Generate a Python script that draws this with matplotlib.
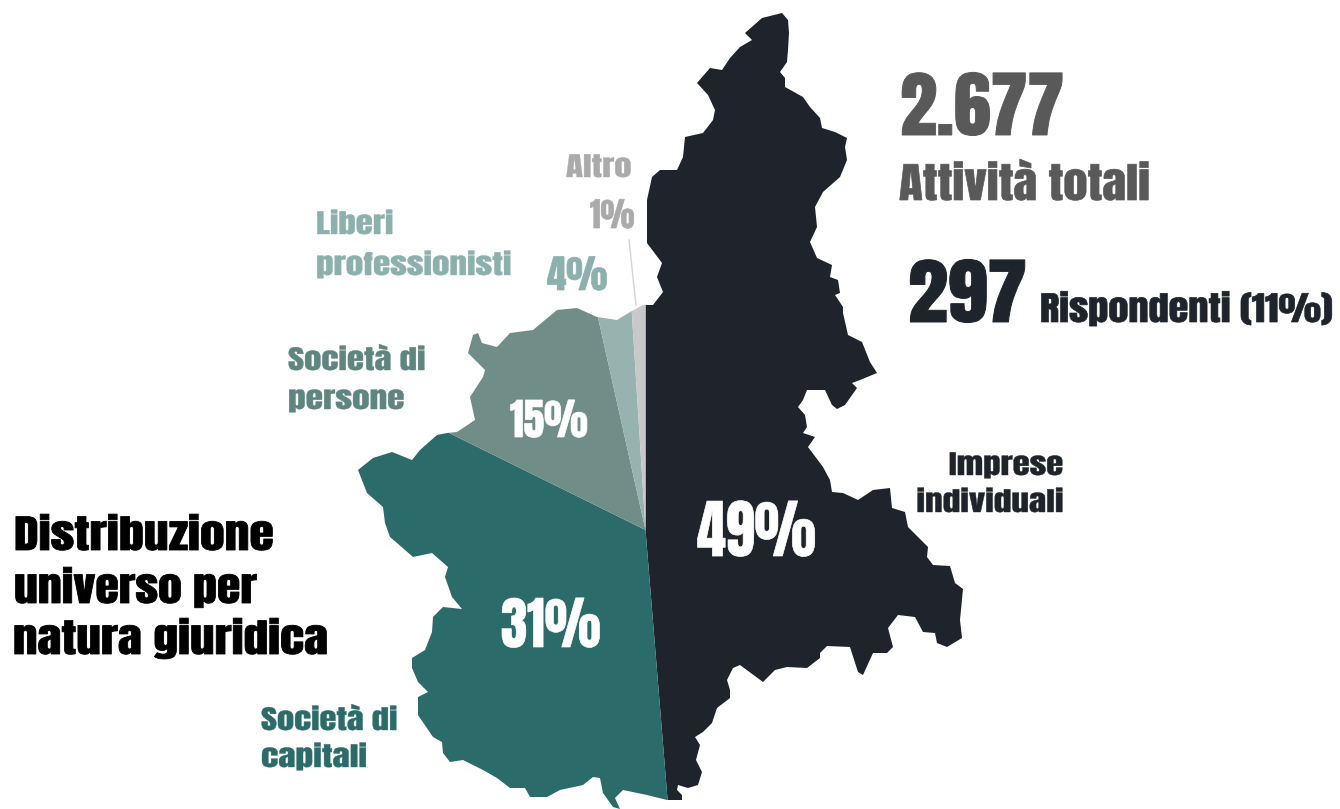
import matplotlib
matplotlib.use('Agg')
import matplotlib.pyplot as plt
import matplotlib.patheffects as pe
from matplotlib.patches import Polygon
from matplotlib.transforms import Affine2D

# drawn wedge sizes (the map's wedges do not follow the printed labels exactly)
categories = ['Imprese individuali', 'Società di capitali', 'Società di persone',
              'Liberi professionisti', 'Altro']
drawn_shares = [48.7, 33.6, 14.2, 2.5, 1.0]
printed_labels = ['49%', '31%', '15%', '4%', '1%']
slice_colors = ['#1f232c', '#2b6b69', '#708e87', '#96b3b0', '#c8c8c8']

# outline of the region, in picture pixels
region_outline = [
    (782, 13), (788, 20), (789, 33), (788, 50), (787, 62), (780, 72), (785, 78), (785, 87),
    (803, 97), (810, 107), (820, 118), (822, 128), (835, 132), (847, 138), (845, 147),
    (847, 160), (840, 177), (823, 192), (815, 207), (817, 227), (810, 242), (817, 258),
    (832, 265), (830, 277), (838, 280), (840, 293), (835, 295), (843, 307), (843, 313),
    (848, 335), (862, 342), (870, 362), (877, 373), (860, 380), (852, 383), (857, 388),
    (845, 405), (837, 409), (832, 405), (825, 390), (807, 390), (803, 400), (798, 407),
    (805, 415), (807, 427), (803, 433), (815, 437), (808, 447), (823, 467), (830, 480),
    (832, 492), (843, 493), (858, 500), (873, 490), (890, 488), (892, 508), (905, 512),
    (908, 527), (928, 547), (927, 557), (933, 565), (950, 566), (955, 583), (963, 589),
    (960, 620), (962, 638), (947, 647), (937, 643), (935, 633), (923, 632), (915, 617),
    (898, 615), (888, 628), (893, 647), (887, 653), (873, 653), (863, 675), (858, 672),
    (850, 647), (827, 646), (820, 653), (820, 658), (807, 668), (787, 667), (775, 670),
    (763, 682), (740, 665), (733, 668), (727, 680), (730, 690), (730, 698), (717, 708),
    (712, 723), (703, 732), (695, 737), (700, 745), (696, 760), (702, 772), (698, 785),
    (688, 788), (678, 785), (677, 790), (682, 795), (682, 800), (667, 800), (647, 795),
    (623, 790), (615, 798), (620, 809), (613, 807), (603, 793), (600, 778), (593, 777),
    (583, 785), (560, 790), (547, 797), (530, 797), (525, 788), (510, 788), (497, 778),
    (483, 770), (463, 760), (450, 762), (443, 753), (442, 742), (433, 737), (418, 715),
    (418, 697), (428, 692), (418, 682), (412, 668), (412, 658), (425, 650), (432, 632),
    (433, 617), (443, 607), (462, 609), (452, 597), (445, 577), (448, 567), (432, 553),
    (413, 557), (397, 543), (390, 537), (385, 523), (383, 507), (367, 493), (358, 470),
    (373, 458), (392, 452), (412, 460), (420, 450), (437, 435), (447, 433), (457, 432),
    (475, 420), (470, 397), (483, 377), (485, 370), (468, 353), (473, 335), (478, 333),
    (482, 343), (497, 347), (510, 333), (533, 330), (557, 310), (577, 308), (597, 317),
    (617, 320), (630, 312), (643, 305), (653, 305), (663, 292), (657, 277), (662, 263),
    (647, 243), (647, 200), (652, 177), (660, 170), (677, 170), (683, 157), (685, 137),
    (703, 133), (713, 120), (715, 110), (708, 95), (697, 83), (710, 68), (722, 70),
    (730, 58), (740, 47), (752, 40), (745, 33), (762, 18),
]

plt.rcParams['font.family'] = ['Anton', 'Liberation Sans', 'DejaVu Sans']

fig = plt.figure(figsize=(13.4, 8.09), dpi=100)
ax = fig.add_axes([0, 0, 1, 1])

# y axis points down, so startangle -90 is straight up on screen
wedges, _ = ax.pie(drawn_shares, colors=slice_colors, center=(645.5, 530), radius=700,
                   startangle=-90, counterclock=True)
ax.set_xlim(0, 1340)
ax.set_ylim(809, 0)
ax.axis('off')

mask = Polygon(region_outline, closed=True, transform=ax.transData, facecolor='none', edgecolor='none')
ax.add_patch(mask)
for w in wedges:
    w.set_clip_on(True)  # pie turns clipping off
    w.set_clip_path(mask)

# leader line for Altro
ax.plot([629, 636], [240, 305], color='#d4d4d4', lw=1)


class StretchX(pe.AbstractPathEffect):
    # widen and thicken a text around its anchor, Anton is lighter than the original face
    def __init__(self, x0, sx, stroke, color):
        super().__init__()
        self.x0 = x0
        self.sx = sx
        self.stroke = stroke
        self.color = color

    def draw_path(self, renderer, gc, tpath, affine, rgbFace=None):
        stretch = Affine2D().translate(-self.x0, 0).scale(self.sx, 1).translate(self.x0, 0)
        gc0 = renderer.new_gc()
        gc0.copy_properties(gc)
        gc0.set_foreground(self.color)
        gc0.set_linewidth(self.stroke)
        renderer.draw_path(gc0, tpath, affine + stretch, rgbFace)
        gc0.restore()


def label(x, y, s, size, color, sx=1.0, ha='left', stroke=0.3):
    t = ax.text(x, y, s, fontsize=size, color=color, ha=ha, va='baseline')
    t.set_path_effects([StretchX(x, sx, stroke, color)])


# title
label(14, 550, 'Distribuzione', 28, 'black', 1.28, stroke=0.6)
label(14, 603, 'universo per', 28, 'black', 1.23, stroke=0.6)
label(13, 654, 'natura giuridica', 28, 'black', 1.265, stroke=0.6)

# totals
label(900, 135, '2.677', 52, '#595959', 1.03, stroke=0.7)
label(899, 200, 'Attività totali', 30, '#595959', 1.17, stroke=0.5)
label(908, 322, '297', 52, '#1f232c', 1.11, stroke=0.7)
label(1040, 322, 'Rispondenti (11%)', 24, '#1f232c', 1.21, stroke=0.5)

# slice names
label(566, 177, 'Altro', 19, '#aaaaaa', 1.32)
label(316, 234, 'Liberi', 19, '#8cb0ae', 1.32)
label(316, 275, 'professionisti', 19, '#8cb0ae', 1.33)
label(288, 370, 'Società di', 19, '#5f8580', 1.32)
label(288, 409, 'persone', 19, '#5f8580', 1.34)
label(1063, 475, 'Imprese', 19, '#1f232c', 1.32, ha='right')
label(1063, 512, 'individuali', 19, '#1f232c', 1.34, ha='right')
label(261, 730, 'Società di', 19, '#2b6b69', 1.31)
label(261, 767, 'capitali', 19, '#2b6b69', 1.34)

# percentages
pct_x = [697, 501, 510, 547, 590]
pct_y = [556, 647, 437, 290, 228]
pct_size = [46, 41, 31, 28, 24]
pct_sx = [0.91, 0.93, 0.96, 1.0, 0.96]
pct_color = ['white', 'white', 'white', '#8cb0ae', '#aaaaaa']
for x, y, s, size, sx, c in zip(pct_x, pct_y, printed_labels, pct_size, pct_sx, pct_color):
    label(x, y, s, size, c, sx, stroke=0.5)

fig.savefig('out.png', dpi=100)
